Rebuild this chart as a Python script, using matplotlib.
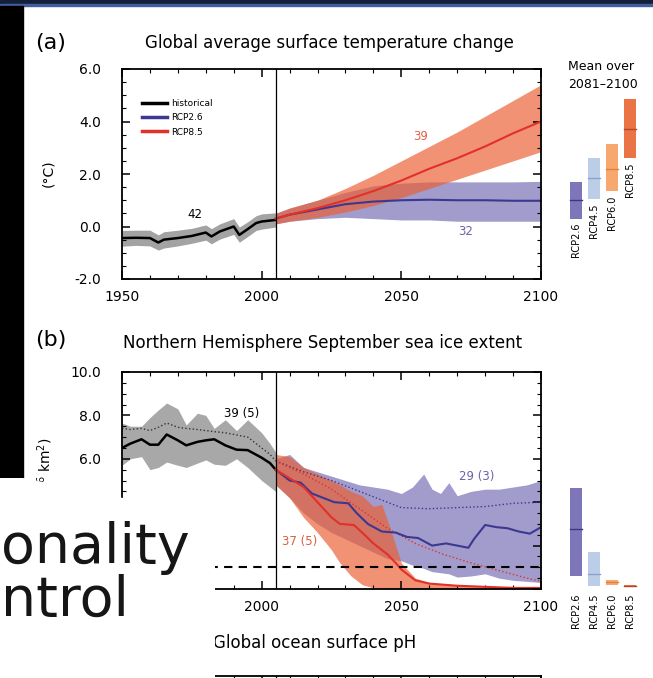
import matplotlib.pyplot as plt
from matplotlib.patches import Polygon, Rectangle
from matplotlib.ticker import MultipleLocator, FuncFormatter

plt.rcParams['font.family'] = ['DejaVu Sans']
plt.rcParams['axes.unicode_minus'] = False

W, H = 653, 678

# ---- panel (a): global surface temperature change (deg C) ----
hist_years = [1950, 1955, 1960, 1963, 1965, 1970, 1975, 1980, 1982, 1985, 1990, 1992, 1995, 1998, 2000, 2005]
hist_mean = [-0.44, -0.43, -0.44, -0.61, -0.5, -0.44, -0.36, -0.23, -0.38, -0.19, 0.0, -0.32, -0.1, 0.13, 0.19, 0.25]
hist_low = [-0.75, -0.72, -0.74, -0.9, -0.82, -0.74, -0.64, -0.52, -0.66, -0.48, -0.3, -0.6, -0.38, -0.15, -0.1, -0.02]
hist_high = [-0.15, -0.14, -0.14, -0.32, -0.2, -0.14, -0.07, 0.06, -0.08, 0.1, 0.3, -0.02, 0.18, 0.41, 0.48, 0.52]

proj_years = [2005, 2010, 2020, 2030, 2040, 2050, 2060, 2070, 2080, 2090, 2100]
rcp85_mean = [0.3, 0.45, 0.7, 1.0, 1.35, 1.75, 2.2, 2.6, 3.05, 3.55, 4.0]
rcp85_low = [0.1, 0.2, 0.35, 0.55, 0.8, 1.1, 1.45, 1.8, 2.15, 2.5, 2.85]
rcp85_high = [0.5, 0.7, 1.0, 1.45, 1.95, 2.5, 3.05, 3.6, 4.2, 4.8, 5.4]
rcp26_mean = [0.3, 0.45, 0.65, 0.85, 0.95, 1.0, 1.02, 1.0, 1.0, 0.98, 0.98]
rcp26_low = [0.1, 0.2, 0.3, 0.35, 0.3, 0.25, 0.25, 0.2, 0.2, 0.2, 0.2]
rcp26_high = [0.5, 0.7, 1.0, 1.3, 1.55, 1.65, 1.7, 1.7, 1.7, 1.7, 1.72]

scenarios = ['RCP2.6', 'RCP4.5', 'RCP6.0', 'RCP8.5']
temp_bar_low = [0.3, 1.05, 1.35, 2.6]
temp_bar_high = [1.7, 2.6, 3.15, 4.85]
temp_bar_mean = [1.0, 1.85, 2.2, 3.7]

# ---- panel (b): NH September sea ice extent (10^6 km2) ----
ice_hist_years = [1950, 1953, 1957, 1960, 1963, 1966, 1970, 1973, 1977, 1980, 1983, 1987, 1991, 1995, 2000, 2003, 2005]
ice_hist_mean = [6.5, 6.7, 6.9, 6.65, 6.65, 7.12, 6.85, 6.62, 6.78, 6.85, 6.9, 6.62, 6.42, 6.4, 6.05, 5.8, 5.5]
ice_hist_dot = [7.4, 7.35, 7.4, 7.3, 7.45, 7.65, 7.45, 7.4, 7.35, 7.3, 7.25, 7.2, 7.1, 7.0, 6.5, 6.2, 5.9]
ice_hist_low = [5.7, 6.0, 6.1, 5.5, 5.6, 5.85, 5.7, 5.6, 5.8, 5.95, 5.75, 5.7, 6.0, 5.6, 5.0, 4.7, 4.5]
ice_hist_high = [7.65, 7.5, 7.5, 7.9, 8.25, 8.57, 8.3, 7.56, 8.1, 8.0, 7.4, 7.8, 7.3, 7.8, 7.2, 6.7, 6.3]

r26_years = [2005, 2010, 2014, 2018, 2022, 2026, 2031, 2034, 2038, 2043, 2048, 2052, 2056, 2061, 2066, 2070, 2074, 2076, 2080, 2084, 2088, 2092, 2096, 2100]
r26_ice_mean = [5.5, 5.0, 4.9, 4.4, 4.2, 4.0, 3.95, 3.5, 3.0, 2.65, 2.6, 2.4, 2.35, 2.0, 2.1, 2.0, 1.9, 2.3, 2.95, 2.85, 2.8, 2.65, 2.55, 2.85]
r26_dot_years = [2005, 2015, 2025, 2035, 2045, 2050, 2060, 2070, 2080, 2090, 2100]
r26_ice_dot = [5.9, 5.4, 5.0, 4.5, 4.0, 3.75, 3.7, 3.75, 3.8, 3.95, 4.0]
r26_band_years = [2005, 2010, 2015, 2020, 2025, 2030, 2035, 2040, 2045, 2050, 2054, 2058, 2061, 2064, 2067, 2070, 2075, 2080, 2085, 2090, 2095, 2100]
r26_ice_low = [4.8, 4.2, 3.5, 3.0, 2.6, 2.3, 2.0, 1.7, 1.4, 1.3, 1.1, 0.95, 0.8, 0.75, 0.7, 0.55, 0.6, 0.7, 0.5, 0.4, 0.35, 0.3]
r26_ice_high = [6.0, 6.2, 5.6, 5.4, 5.2, 5.0, 4.8, 4.7, 4.6, 4.4, 4.7, 5.3, 4.6, 4.4, 4.9, 4.3, 4.5, 4.6, 4.6, 4.7, 4.8, 5.0]

r85_years = [2005, 2010, 2015, 2020, 2025, 2028, 2033, 2036, 2040, 2045, 2048, 2050, 2055, 2060, 2070, 2080, 2090, 2100]
r85_ice_mean = [5.5, 5.1, 4.7, 4.0, 3.3, 3.0, 2.95, 2.6, 2.1, 1.6, 1.2, 0.9, 0.4, 0.25, 0.15, 0.1, 0.05, 0.05]
r85_dot_years = [2005, 2015, 2025, 2035, 2045, 2055, 2065, 2075, 2085, 2095, 2100]
r85_ice_dot = [5.9, 5.3, 4.6, 3.7, 2.8, 2.1, 1.6, 1.2, 0.85, 0.5, 0.35]
r85_band_years = [2005, 2010, 2015, 2020, 2025, 2028, 2032, 2036, 2040, 2043, 2046, 2050, 2055, 2060, 2070, 2080, 2090, 2100]
r85_ice_low = [4.8, 4.2, 3.3, 2.6, 1.8, 1.2, 0.6, 0.2, 0.05, 0.0, 0.0, 0.0, 0.0, 0.0, 0.0, 0.0, 0.0, 0.0]
r85_ice_high = [6.2, 6.1, 5.6, 5.3, 5.0, 4.8, 4.5, 4.3, 3.8, 3.9, 2.8, 1.2, 0.5, 0.3, 0.15, 0.1, 0.08, 0.05]

ice_bar_low = [0.6, 0.14, 0.2, 0.1]
ice_bar_high = [4.65, 1.7, 0.4, 0.2]
ice_bar_mean = [2.76, 0.7, 0.3, 0.15]

bar_colors = ['#7d77b9', '#bccde8', '#f6a86e', '#eb7447']
bar_line_colors = ['#3d3784', '#8aa3cc', '#e4803e', '#b8452a']


def fig_rect(x0, y0, x1, y1):
    # pixel box (top-left origin) -> figure fraction
    return [x0 / W, 1 - y1 / H, (x1 - x0) / W, (y1 - y0) / H]


def fx(x):
    return x / W


def fy(y):
    return 1 - y / H


def style_axes(ax):
    ax.tick_params(which='both', direction='in', top=True, right=True, labelsize=10)
    ax.tick_params(which='major', length=6, width=1.1)
    ax.tick_params(which='minor', length=3, width=0.8)
    ax.tick_params(axis='y', pad=15)
    ax.tick_params(axis='x', pad=8)
    ax.xaxis.set_major_locator(MultipleLocator(50))
    ax.xaxis.set_minor_locator(MultipleLocator(10))
    for s in ax.spines.values():
        s.set_linewidth(1.3)


fig = plt.figure(figsize=(W / 100, H / 100), dpi=100)

purple_band = (100 / 255, 90 / 255, 170 / 255, 0.6)
orange_band = (235 / 255, 95 / 255, 50 / 255, 0.68)

# ---------------- (a)
ax1 = fig.add_axes(fig_rect(122, 69, 541, 279))
style_axes(ax1)
ax1.set_xlim(1950, 2100)
ax1.set_ylim(-2, 6)
ax1.yaxis.set_major_locator(MultipleLocator(2))
ax1.yaxis.set_minor_locator(MultipleLocator(0.5))
ax1.yaxis.set_major_formatter('{x:.1f}')
ax1.set_xticks([1950, 2000, 2050, 2100])
ax1.fill_between(hist_years, hist_low, hist_high, color='#a3a3a3', lw=0)
ax1.fill_between(proj_years, rcp26_low, rcp26_high, color=purple_band, lw=0)
ax1.fill_between(proj_years, rcp85_low, rcp85_high, color=orange_band, lw=0)
ax1.plot(hist_years, hist_mean, color='black', lw=1.8, label='historical')
ax1.plot(proj_years, rcp26_mean, color='#3c3890', lw=1.5, label='RCP2.6')
ax1.plot(proj_years, rcp85_mean, color='#e2302a', lw=1.5, label='RCP8.5')
ax1.axvline(2005, color='black', lw=0.9)
leg = ax1.legend(loc='upper left', bbox_to_anchor=(0.036, 0.88), frameon=False, fontsize=6.5,
                 handlelength=2.8, handletextpad=0.5, labelspacing=0.6, borderpad=0)
for h in leg.get_lines():
    h.set_linewidth(2.5)
ax1.set_ylabel('(°C)', fontsize=10)
ax1.yaxis.set_label_coords(-0.16, 0.505)
ax1.text(1976, 0.46, '42', fontsize=8.5, ha='center', va='center')
ax1.text(2057, 3.43, '39', fontsize=8.5, ha='center', va='center', color='#e0604a')
ax1.text(2073, -0.2, '32', fontsize=8.5, ha='center', va='center', color='#6a62a8')

axb1 = fig.add_axes(fig_rect(567, 69, 639, 279))
axb1.set_xlim(-0.5, 3.5)
axb1.set_ylim(-2, 6)
axb1.axis('off')
for i, name in enumerate(scenarios):
    axb1.bar(i, temp_bar_high[i] - temp_bar_low[i], bottom=temp_bar_low[i], width=0.67,
             color=bar_colors[i], lw=0)
    axb1.plot([i - 0.33, i + 0.33], [temp_bar_mean[i]] * 2, color=bar_line_colors[i], lw=1)
    axb1.annotate(name, (i, temp_bar_low[i]), xytext=(0, -3), textcoords='offset points',
                  rotation=90, ha='center', va='top', fontsize=7, annotation_clip=False)
fig.text(fx(601), fy(67), 'Mean over', ha='center', va='center', fontsize=9)
fig.text(fx(603), fy(85), '2081\u20132100', ha='center', va='center', fontsize=9)

fig.text(fx(35), fy(43), '(a)', ha='left', va='center', fontsize=16)
fig.text(fx(145), fy(43), 'Global average surface temperature change', ha='left', va='center', fontsize=12)

# ---------------- (b)
ax2 = fig.add_axes(fig_rect(122, 372, 541, 589))
style_axes(ax2)
ax2.set_xlim(1950, 2100)
ax2.set_ylim(0, 10)
ax2.yaxis.set_major_locator(MultipleLocator(2))
ax2.yaxis.set_minor_locator(MultipleLocator(0.5))
# lower labels sit under the slide text box, so they are left blank
ax2.yaxis.set_major_formatter(FuncFormatter(lambda v, p: f'{v:.1f}' if v >= 5 else ''))
ax2.set_xticks([1950, 2000, 2050, 2100], ['', '2000', '2050', '2100'])
ax2.fill_between(ice_hist_years, ice_hist_low, ice_hist_high, color='#a8a8a8', lw=0)
ax2.fill_between(r26_band_years, r26_ice_low, r26_ice_high, color=purple_band, lw=0)
ax2.fill_between(r85_band_years, r85_ice_low, r85_ice_high, color=orange_band, lw=0)
ax2.plot(ice_hist_years, ice_hist_dot, color='#333333', lw=1, ls=':')
ax2.plot(ice_hist_years, ice_hist_mean, color='black', lw=1.8)
ax2.plot(r26_dot_years, r26_ice_dot, color='#3c3890', lw=1, ls=':')
ax2.plot(r85_dot_years, r85_ice_dot, color='#e2302a', lw=1, ls=':')
ax2.plot(r26_years, r26_ice_mean, color='#3c3890', lw=1.5)
ax2.plot(r85_years, r85_ice_mean, color='#e2302a', lw=1.5)
ax2.axhline(1.0, color='black', lw=1.5, ls=(0, (4, 3)))
ax2.axvline(2005, color='black', lw=0.9)
ax2.set_ylabel('(10$^6$ km$^2$)', fontsize=10)
ax2.yaxis.set_label_coords(-0.16, 0.54)
ax2.text(1993, 8.1, '39 (5)', fontsize=8.5, ha='center', va='center')
ax2.text(2077, 5.2, '29 (3)', fontsize=8.5, ha='center', va='center', color='#6a62a8')
ax2.text(2013.5, 2.2, '37 (5)', fontsize=8.5, ha='center', va='center', color='#d8603e')

axb2 = fig.add_axes(fig_rect(567, 372, 639, 589))
axb2.set_xlim(-0.5, 3.5)
axb2.set_ylim(0, 10)
axb2.axis('off')
for i, name in enumerate(scenarios):
    axb2.bar(i, ice_bar_high[i] - ice_bar_low[i], bottom=ice_bar_low[i], width=0.67,
             color=bar_colors[i], lw=0)
    axb2.plot([i - 0.33, i + 0.33], [ice_bar_mean[i]] * 2, color=bar_line_colors[i], lw=1)
    axb2.annotate(name, (i, 0.0), xytext=(0, -3), textcoords='offset points',
                  rotation=90, ha='center', va='top', fontsize=7, annotation_clip=False)

fig.text(fx(35), fy(340), '(b)', ha='left', va='center', fontsize=16)
fig.text(fx(123), fy(343), 'Northern Hemisphere September sea ice extent', ha='left', va='center', fontsize=12)

# ---------------- (c), only its top edge is visible
ax3 = fig.add_axes(fig_rect(122, 676, 541, 880))
style_axes(ax3)
ax3.set_xlim(1950, 2100)
ax3.tick_params(labelbottom=False, labelleft=False)
ax3.set_yticks([])
ax3.axvline(2005, color='black', lw=0.9)
fig.text(fx(213), fy(643), 'Global ocean surface pH', ha='left', va='center', fontsize=12)

# ---------------- slide pieces around the figure
fig.add_artist(Rectangle((0, fy(4)), 1, 4 / H, transform=fig.transFigure, color='#14203a', zorder=20))
fig.add_artist(Rectangle((0, fy(6)), 1, 2 / H, transform=fig.transFigure, color='#3f5f9e', zorder=20))
fig.add_artist(Rectangle((0, fy(478)), fx(23), (478 - 6) / H, transform=fig.transFigure,
                         color='black', zorder=20))
cover = [(0, 478), (23, 478), (123, 498), (215, 498), (215, 678), (0, 678)]
fig.add_artist(Polygon([(fx(x), fy(y)) for x, y in cover], closed=True, transform=fig.transFigure,
                       facecolor='white', edgecolor='none', zorder=20))
t1 = fig.text(fx(1), fy(563), 'onality', ha='left', va='baseline', fontsize=40, color='#161616')
t2 = fig.text(fx(1), fy(616), 'ntrol', ha='left', va='baseline', fontsize=40, color='#161616')
t1.set_zorder(21)
t2.set_zorder(21)

fig.savefig('out.png', dpi=100)
